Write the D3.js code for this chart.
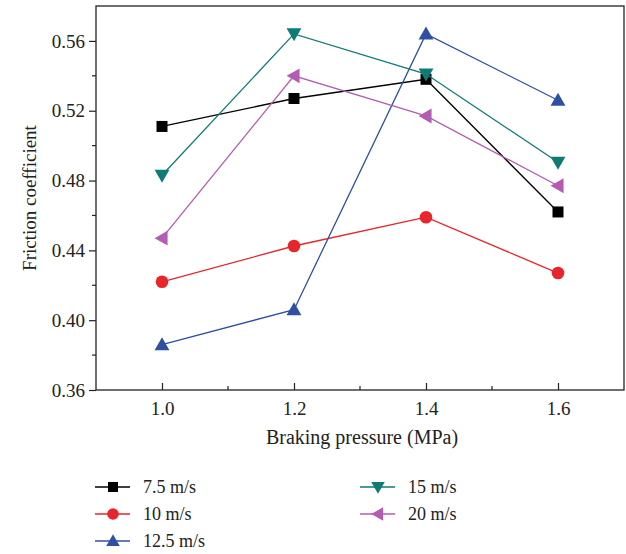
<!DOCTYPE html>
<html>
<head>
<meta charset="utf-8">
<script src="https://cdn.jsdelivr.net/npm/d3@7"></script>
<style>
  body { margin: 0; background: #fff; }
  svg text { font-family: "Liberation Serif", "DejaVu Serif", serif; }
</style>
</head>
<body>
<div id="chart"></div>
<script>
// data
const pressures = [1.0, 1.2, 1.4, 1.6];
const seriesNames = ["7.5 m/s", "10 m/s", "12.5 m/s", "15 m/s", "20 m/s"];
const v75 = [0.511, 0.527, 0.538, 0.462];
const v10 = [0.422, 0.4425, 0.459, 0.427];
const v125 = [0.386, 0.406, 0.564, 0.526];
const v15 = [0.483, 0.564, 0.541, 0.4905];
const v20 = [0.447, 0.540, 0.517, 0.477];
const xTicks = [1.0, 1.2, 1.4, 1.6];
const yTicks = [0.36, 0.40, 0.44, 0.48, 0.52, 0.56];

const width = 626, height = 554;
const margin = { left: 96, right: 2, top: 6, bottom: 164 };

const series = [
  { name: seriesNames[0], values: v75, color: "#000000", symbol: "square" },
  { name: seriesNames[1], values: v10, color: "#e8252a", symbol: "circle" },
  { name: seriesNames[2], values: v125, color: "#2f4fa2", symbol: "up" },
  { name: seriesNames[3], values: v15, color: "#0e7b77", symbol: "down" },
  { name: seriesNames[4], values: v20, color: "#b45cb1", symbol: "left" }
];

const svg = d3.select("#chart").append("svg")
  .attr("width", width).attr("height", height);

const x = d3.scaleLinear().domain([0.9, 1.7]).range([margin.left, width - margin.right]);
const y = d3.scaleLinear().domain([0.36, 0.58]).range([height - margin.bottom, margin.top]);

const x0 = x.range()[0], x1 = x.range()[1], y0 = y.range()[0], y1 = y.range()[1];

// frame
svg.append("rect")
  .attr("x", x0).attr("y", y1)
  .attr("width", x1 - x0).attr("height", y0 - y1)
  .attr("fill", "none").attr("stroke", "#222").attr("stroke-width", 1.3);

// x axis, ticks pointing in
const xAxis = svg.append("g").attr("transform", `translate(0,${y0})`)
  .call(d3.axisBottom(x).tickValues(xTicks).tickSize(-7).tickFormat(d3.format(".1f")));
xAxis.select(".domain").remove();
xAxis.selectAll("line").attr("stroke", "#222").attr("stroke-width", 1.2);
xAxis.selectAll("text").attr("y", 12).attr("font-size", 19).attr("fill", "#222");
xAxis.selectAll(".minor").data([1.1, 1.3, 1.5]).join("line")
  .attr("x1", d => x(d)).attr("x2", d => x(d)).attr("y1", 0).attr("y2", -4)
  .attr("stroke", "#222").attr("stroke-width", 1.2);

// y axis, ticks pointing out
const yAxis = svg.append("g").attr("transform", `translate(${x0},0)`)
  .call(d3.axisLeft(y).tickValues(yTicks).tickSize(7).tickFormat(d3.format(".2f")));
yAxis.select(".domain").remove();
yAxis.selectAll("line").attr("stroke", "#222").attr("stroke-width", 1.2);
yAxis.selectAll("text").attr("x", -11).attr("font-size", 19).attr("fill", "#222");
yAxis.selectAll(".minor").data([0.38, 0.42, 0.46, 0.50, 0.54]).join("line")
  .attr("x1", 0).attr("x2", -4).attr("y1", d => y(d)).attr("y2", d => y(d))
  .attr("stroke", "#222").attr("stroke-width", 1.2);

// axis titles
svg.append("text")
  .attr("x", (x0 + x1) / 2 + 2).attr("y", 444)
  .attr("text-anchor", "middle").attr("font-size", 20).attr("fill", "#222")
  .text("Braking pressure (MPa)");
svg.append("text")
  .attr("transform", `translate(36,${(y0 + y1) / 2}) rotate(-90)`)
  .attr("text-anchor", "middle").attr("font-size", 19).attr("fill", "#222")
  .text("Friction coefficient");

function drawMarker(g, sym, color, s) {
  if (sym === "square") {
    g.append("rect").attr("x", -s).attr("y", -s).attr("width", 2 * s).attr("height", 2 * s).attr("fill", color);
  } else if (sym === "circle") {
    g.append("circle").attr("r", s + 0.8).attr("fill", color);
  } else {
    const t = s * 1.35;
    let pts;
    if (sym === "up") pts = [[0, -t], [t, t * 0.75], [-t, t * 0.75]];
    if (sym === "down") pts = [[0, t], [t, -t * 0.75], [-t, -t * 0.75]];
    if (sym === "left") pts = [[-t, 0], [t * 0.75, -t], [t * 0.75, t]];
    g.append("polygon").attr("points", pts.map(p => p.join(",")).join(" ")).attr("fill", color);
  }
}

const line = d3.line().x((d, i) => x(pressures[i])).y(d => y(d));

series.forEach(s => {
  svg.append("path").datum(s.values)
    .attr("d", line).attr("fill", "none")
    .attr("stroke", s.color).attr("stroke-width", 1.3);
  s.values.forEach((v, i) => {
    const g = svg.append("g").attr("transform", `translate(${x(pressures[i])},${y(v)})`);
    drawMarker(g, s.symbol, s.color, 5.5);
  });
});

// legend
const legendPos = [
  [95, 487], [95, 514], [95, 541],
  [360, 487], [360, 514]
];
series.forEach((s, i) => {
  const [lx, ly] = legendPos[i];
  const g = svg.append("g").attr("transform", `translate(${lx},${ly})`);
  g.append("line").attr("x1", 0).attr("x2", 35).attr("y1", 0).attr("y2", 0)
    .attr("stroke", s.color).attr("stroke-width", 1.3);
  const mg = g.append("g").attr("transform", "translate(18,0)");
  drawMarker(mg, s.symbol, s.color, 5);
  g.append("text").attr("x", 48).attr("y", 0).attr("dy", "0.35em")
    .attr("font-size", 18).attr("fill", "#222").text(s.name);
});
</script>
</body>
</html>
